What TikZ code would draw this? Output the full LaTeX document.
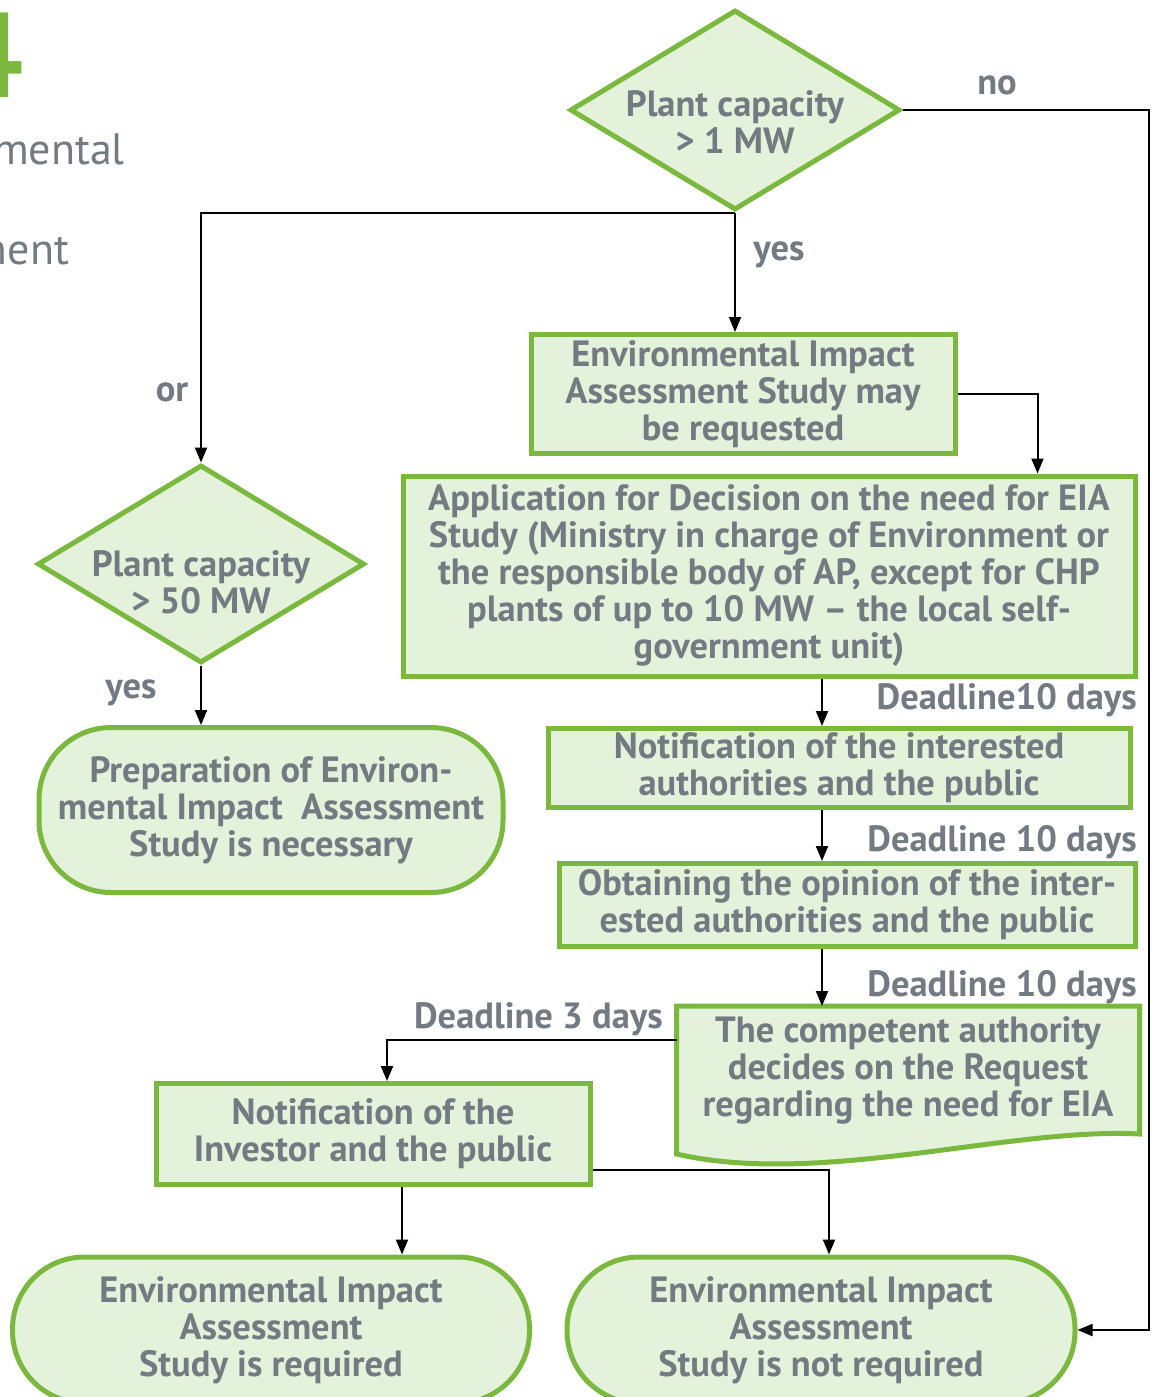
\documentclass[tikz,border=0pt]{standalone}
\usepackage{fontspec}
\setmainfont{PT Sans}
\usetikzlibrary{shapes.geometric, arrows.meta, backgrounds}

\definecolor{leaf}{HTML}{7AB93E}
\definecolor{pale}{HTML}{E4F1DB}
\definecolor{ink}{HTML}{747A82}

\begin{document}
\begin{tikzpicture}[x=1pt, y=-1pt, >={Triangle[length=15pt, width=12pt]},
  font=\fontsize{36.5}{37}\selectfont\bfseries,
  box/.style={rectangle, draw=leaf, fill=pale, line width=5pt, text=ink, align=center, inner sep=0pt},
  decision/.style={diamond, aspect=1.64, draw=leaf, fill=pale, line width=5pt, inner sep=0pt},
  terminal/.style={box, rounded corners=72pt},
  link/.style={draw=black, line width=2pt},
  note/.style={text=ink, inner sep=0pt}]

\clip (0,0) rectangle (1151,1397);

% chapter heading, cut off at the left edge
\node[text=leaf, inner sep=0pt, anchor=base east, font=\fontsize{120}{120}\selectfont\bfseries] (chapnum) at (24,97) {4};
\node[note, anchor=north east, align=left, font=\fontsize{44}{50}\selectfont] (chaptitle) at (125,133) {Environmental\\[50pt]Assessment};

% decisions
\node[decision, minimum width=330pt, minimum height=200pt,
  label={[note, align=center, yshift=-12pt]center:{Plant capacity\\> 1 MW}}] (d1) at (735,110) {};
\node[decision, minimum width=327pt, minimum height=198pt,
  label={[note, align=center, yshift=-18pt]center:{Plant capacity\\> 50 MW}}] (d2) at (201,564) {};

% steps
\node[box, minimum width=424pt, minimum height=119pt] (r1) at (743,394) {Environmental Impact\\Assessment Study may\\be requested};
\node[box, minimum width=732pt, minimum height=200pt] (r2) at (769,576) {Application for Decision on the need for EIA\\Study (Ministry in charge of Environment or\\the responsible body of AP, except for CHP\\plants of up to 10 MW -- the local self-\\government unit)};
\node[box, minimum width=582pt, minimum height=79pt] (r3) at (839,768) {Notification of the interested\\authorities and the public};
\node[box, minimum width=576pt, minimum height=83pt] (r4) at (847,905) {Obtaining the opinion of the inter-\\ested authorities and the public};
\node[box, draw=none, fill=none, minimum width=458pt, minimum height=123pt] (decide) at (908,1070) {The competent authority\\decides on the Request\\regarding the need for EIA};
\node[box, minimum width=434pt, minimum height=101pt] (r5) at (373,1134) {Notification of the\\Investor and the public};

% outcomes
\node[terminal, minimum width=464pt, minimum height=165pt] (t1) at (271,810) {Preparation of Environ-\\mental Impact~ Assessment\\Study is necessary};
\node[terminal, minimum width=517pt, minimum height=146pt] (t2) at (271,1330) {Environmental Impact\\Assessment\\Study is required};
\node[terminal, minimum width=508pt, minimum height=146pt] (t3) at (821,1330) {Environmental Impact\\Assessment\\Study is not required};

% document outline behind the decision text
\begin{scope}[on background layer]
\filldraw[draw=leaf, fill=pale, line width=5pt] (decide.north west) -- (decide.north east) -- (decide.south east)
  .. controls ([xshift=102pt, yshift=7pt]decide.south) and ([xshift=-88pt, yshift=-53pt]decide.south) .. ([yshift=-20pt]decide.south west) -- cycle;
\end{scope}

% labels
\node[note] (no) at (997,85) {no};
\node[note] (yes1) at (779,255) {yes};
\node[note] (or) at (172,392) {or};
\node[note] (yes2) at (131,693) {yes};
\node[note, anchor=east] (dl1) at (1137,700) {Deadline10 days};
\node[note, anchor=east] (dl2) at (1137,842) {Deadline 10 days};
\node[note, anchor=east] (dl3) at (1137,987) {Deadline 10 days};
\node[note, anchor=east] (dl4) at (663,1019) {Deadline 3 days};

\coordinate (spine) at (822,0);
\coordinate (rail) at (1149,0);
\coordinate (drop) at (387,0);
\coordinate (stem) at (402,0);
\coordinate (branch) at (829,0);

\draw[link, ->] (d1.east) -- (rail |- d1.east) |- (t3.east);
\draw[link, ->] (d1.south) -| (d2.north);
\draw[link, ->] (d1.south) -- (d1.south |- r1.north);
\draw[link, ->] (r1.east) -| ([xshift=-100pt]r2.north east);
\draw[link, ->] (d2.south) -- (d2.south |- t1.north);
\draw[link, ->] (r2.south -| spine) -- (r3.north -| spine);
\draw[link, ->] (r3.south -| spine) -- (r4.north -| spine);
\draw[link, ->] (r4.south -| spine) -- (decide.north -| spine);
\draw[link, ->] ([yshift=30pt]decide.west) -| (r5.north -| drop);
\draw[link, ->] (r5.south -| stem) -- (t2.north -| stem);
\draw[link, ->] ([yshift=-36pt]r5.east) -| (t3.north -| branch);
\end{tikzpicture}
\end{document}
